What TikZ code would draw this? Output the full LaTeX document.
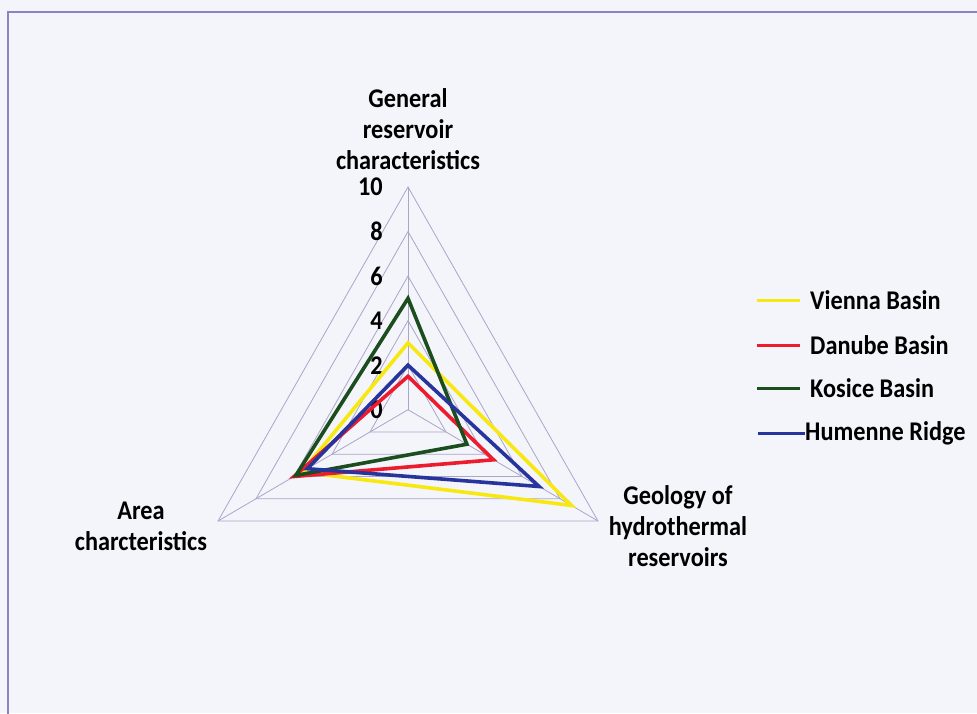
\documentclass[tikz,border=0pt]{standalone}
\usepackage{fontspec}
\setmainfont{Carlito}[FakeStretch=0.9]
\usetikzlibrary{calc}
\definecolor{bg}{HTML}{F4F5FA}
\definecolor{gridc}{HTML}{ABA5C9}
\definecolor{framec}{HTML}{8E82C4}
\definecolor{vienna}{HTML}{F7E812}
\definecolor{danube}{HTML}{EC1C2E}
\definecolor{kosice}{HTML}{1B4D1E}
\definecolor{humenne}{HTML}{27349C}
\begin{document}
\begin{tikzpicture}[x=1pt,y=-1pt,
  gridline/.style={gridc, line width=0.8pt},
  series/.style={line width=3.6pt, line join=miter},
  legline/.style={line width=3pt},
  axislabel/.style={font=\bfseries\fontsize{27}{31}\selectfont, align=center, inner sep=0pt},
  ticklabel/.style={font=\bfseries\fontsize{27}{30}\selectfont, anchor=east, inner sep=0pt},
  legtext/.style={font=\bfseries\fontsize{27}{30}\selectfont, anchor=west, inner sep=0pt}]
\fill[bg] (0,0) rectangle (977,713);
\useasboundingbox (0,0) rectangle (977,713);
% outer frame
\draw[framec, line width=1.4pt] (8,720) -- (8,12) -- (985,12);

% chart centre and axis ends at value 10
\coordinate (O) at (408,409.7);
\coordinate (A) at (408,187);
\coordinate (B) at (598,521);
\coordinate (L) at (218,521);

% rings and spokes
\foreach \k in {2,4,6,8,10}
  \draw[gridline] ($(O)!\k/10!(A)$) -- ($(O)!\k/10!(B)$) -- ($(O)!\k/10!(L)$) -- cycle;
\foreach \v in {A,B,L}
  \draw[gridline] (O) -- (\v);

% scale values
\foreach \k in {0,2,4,6,8,10}
  \node[ticklabel] (t\k) at ($(O)!\k/10!(A) + (-25,0)$) {\k};

% axis titles
\node[axislabel] (gen) at (408,129) {General\\reservoir\\characteristics};
\node[axislabel] (area) at (141,526) {Area\\charcteristics};
\node[axislabel] (geo) at (678,526) {Geology of\\hydrothermal\\reservoirs};

% data series
\draw[vienna, series] ($(O)!0.30!(A)$) -- ($(O)!0.86!(B)$) -- ($(O)!0.56!(L)$) -- cycle;
\draw[danube, series] ($(O)!0.15!(A)$) -- ($(O)!0.45!(B)$) -- ($(O)!0.60!(L)$) -- cycle;
\draw[kosice, series] ($(O)!0.50!(A)$) -- ($(O)!0.31!(B)$) -- ($(O)!0.59!(L)$) -- cycle;
\draw[humenne, series] ($(O)!0.20!(A)$) -- ($(O)!0.69!(B)$) -- ($(O)!0.53!(L)$) -- cycle;

% legend
\node[legtext] (lv) at (810,300) {Vienna Basin};
\node[legtext] (ld) at (810,345) {Danube Basin};
\node[legtext] (lk) at (810,388) {Kosice Basin};
\node[legtext] (lh) at (805,433) {Humenne Ridge};
\coordinate (sv) at (757,300);
\coordinate (sd) at (757,345);
\coordinate (sk) at (757,388);
\coordinate (sh) at (758,433);
\draw[vienna, legline] (sv) -- ($(lv.west)+(-10,0)$);
\draw[danube, legline] (sd) -- ($(ld.west)+(-10,0)$);
\draw[kosice, legline] (sk) -- ($(lk.west)+(-10,0)$);
\draw[humenne, legline] (sh) -- (lh.west);
\end{tikzpicture}
\end{document}
